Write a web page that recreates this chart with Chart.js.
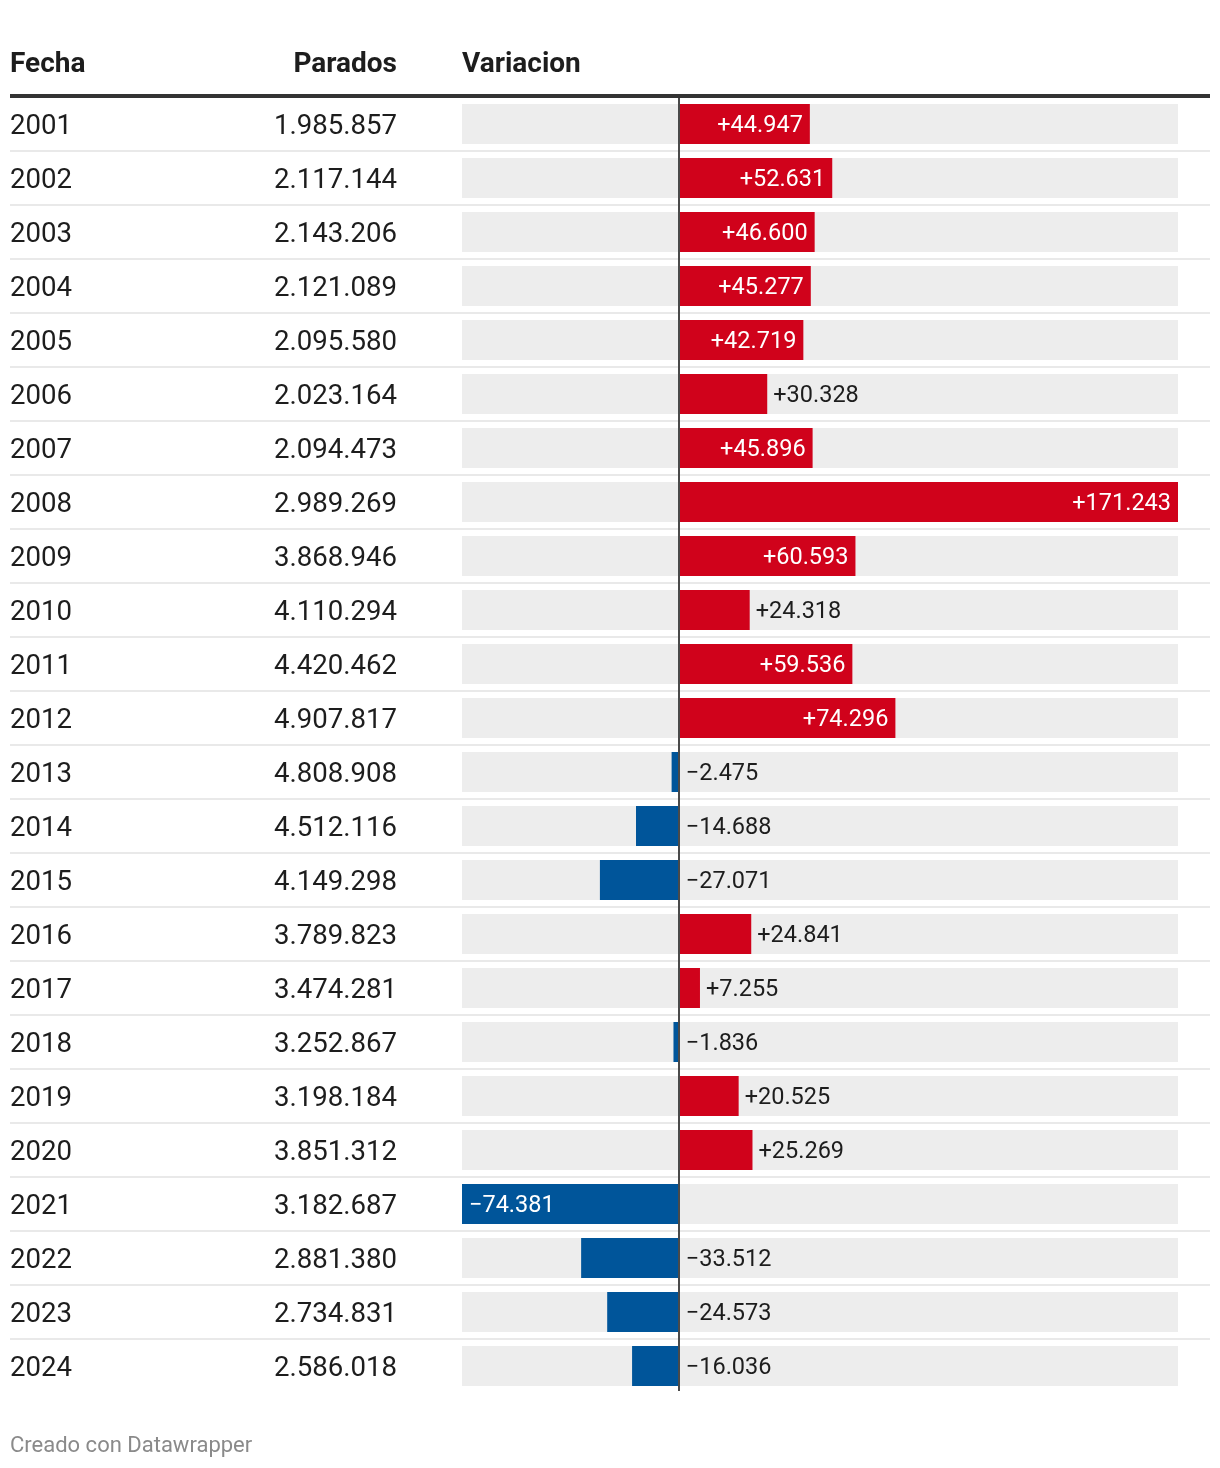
<!DOCTYPE html>
<html>
<head>
<meta charset="utf-8">
<script src="https://cdn.jsdelivr.net/npm/chart.js@4"></script>
<style>
  html, body { margin: 0; padding: 0; background: #fff; }
  canvas { display: block; }
</style>
</head>
<body>
<canvas id="tabla" width="1220" height="1468"></canvas>
<script>
const fechas = ['2001', '2002', '2003', '2004', '2005', '2006', '2007', '2008', '2009', '2010', '2011', '2012',
    '2013', '2014', '2015', '2016', '2017', '2018', '2019', '2020', '2021', '2022', '2023', '2024'];
const parados = [1985857, 2117144, 2143206, 2121089, 2095580, 2023164, 2094473, 2989269, 3868946, 4110294, 4420462, 4907817,
    4808908, 4512116, 4149298, 3789823, 3474281, 3252867, 3198184, 3851312, 3182687, 2881380, 2734831, 2586018];
const variacion = [44947, 52631, 46600, 45277, 42719, 30328, 45896, 171243, 60593, 24318, 59536, 74296,
    -2475, -14688, -27071, 24841, 7255, -1836, 20525, 25269, -74381, -33512, -24573, -16036];
const cabeceras = ['Fecha', 'Parados', 'Variacion'];
const pie = 'Creado con Datawrapper';

const ROJO = '#d0021b', AZUL = '#00559a', FONDO = '#ededed', TEXTO = '#1d1d1d';
const FUENTE = 'Roboto, "Noto Sans", sans-serif';

const vMin = Math.min(...variacion), vMax = Math.max(...variacion);

function miles(n) 
{
    return Math.abs(n).toString().replace(/\B(?=(\d{3})+(?!\d))/g, '.');
}

function signo(n) 
{
    return (n < 0 ? '\u2212' : '+') + miles(n);
}

// texto de las columnas, cabecera, lineas y etiquetas de las barras
const tablaPlugin = {
    id: 'tabla',
    beforeDatasetsDraw(chart) 
    {
        const { ctx } = chart;
        const yScale = chart.scales.y;
        const paso = yScale.getPixelForValue(1) - yScale.getPixelForValue(0);

        ctx.save();
        // cabecera
        ctx.fillStyle = TEXTO;
        ctx.font = 'bold 28px ' + FUENTE;
        ctx.textBaseline = 'middle';
        ctx.textAlign = 'left';
        ctx.fillText(cabeceras[0], 10, 65);
        ctx.textAlign = 'right';
        ctx.fillText(cabeceras[1], 397, 65);
        ctx.textAlign = 'left';
        ctx.fillText(cabeceras[2], 462, 65);

        ctx.fillStyle = '#333';
        ctx.fillRect(10, 94, 1200, 4);

        // separadores
        ctx.fillStyle = '#e9e9e9';
        for (let i = 0; i < fechas.length - 1; i++) 
        {
            const y = yScale.getPixelForValue(i) + paso / 2;
            ctx.fillRect(10, Math.round(y) - 1, 1200, 2);
        }

        // columnas de texto
        ctx.fillStyle = TEXTO;
        ctx.font = '27.6px ' + FUENTE;
        fechas.forEach((f, i) => {
            const y = yScale.getPixelForValue(i) + 3;
            ctx.textAlign = 'left';
            ctx.fillText(f, 10, y);
            ctx.textAlign = 'right';
            ctx.fillText(miles(parados[i]), 397, y);
        });
        ctx.restore();
    },
    afterDatasetsDraw(chart) 
    {
        const { ctx, chartArea } = chart;
        const xScale = chart.scales.x, yScale = chart.scales.y;
        const cero = xScale.getPixelForValue(0);

        ctx.save();
        ctx.font = '23.5px ' + FUENTE;
        ctx.textBaseline = 'middle';
        variacion.forEach((v, i) => {
            const y = yScale.getPixelForValue(i) + 2;
            const fin = xScale.getPixelForValue(v);
            const txt = signo(v);
            const ancho = ctx.measureText(txt).width;
            const dentro = Math.abs(fin - cero) > ancho + 24;
            if (v >= 0) 
            {
                if (dentro) 
                {
                    ctx.fillStyle = '#fff';
                    ctx.textAlign = 'right';
                    ctx.fillText(txt, fin - 7, y);
                }
                else 
                {
                    ctx.fillStyle = TEXTO;
                    ctx.textAlign = 'left';
                    ctx.fillText(txt, fin + 6, y);
                }
            }
            else 
            {
                ctx.textAlign = 'left';
                if (dentro) 
                {
                    ctx.fillStyle = '#fff';
                    ctx.fillText(txt, fin + 7, y);
                }
                else 
                {
                    ctx.fillStyle = TEXTO;
                    ctx.fillText(txt, cero + 7, y);
                }
            }
        });

        // linea del cero
        ctx.fillStyle = '#4a4a4a';
        ctx.fillRect(Math.round(cero) - 1, 98, 2, chartArea.bottom - 98 - 2);

        // pie
        ctx.fillStyle = '#8a8a8a';
        ctx.font = '22px ' + FUENTE;
        ctx.textAlign = 'left';
        ctx.fillText(pie, 10, 1446);
        ctx.restore();
    }
};

new Chart(document.getElementById('tabla'), {
    type: 'bar',
    data: {
        labels: fechas,
        datasets: [
            {
                label: 'Variacion',
                data: variacion,
                backgroundColor: (c) => (c.raw < 0 ? AZUL : ROJO),
                borderWidth: 0,
                order: 1
            },
            {
                label: 'fondo',
                data: fechas.map(() => [vMin, vMax]),
                backgroundColor: FONDO,
                borderWidth: 0,
                order: 2
            }
        ]
    },
    options: {
        indexAxis: 'y',
        responsive: false,
        animation: false,
        devicePixelRatio: 1,
        layout: { padding: { left: 462, right: 42, top: 97, bottom: 75 } },
        datasets: {
            bar: { grouped: false, categoryPercentage: 1, barPercentage: 40 / 54 }
        },
        scales: {
            x: { display: false, min: vMin, max: vMax },
            y: { display: false }
        },
        plugins: {
            legend: { display: false },
            tooltip: { enabled: false }
        }
    },
    plugins: [tablaPlugin]
});
</script>
</body>
</html>
